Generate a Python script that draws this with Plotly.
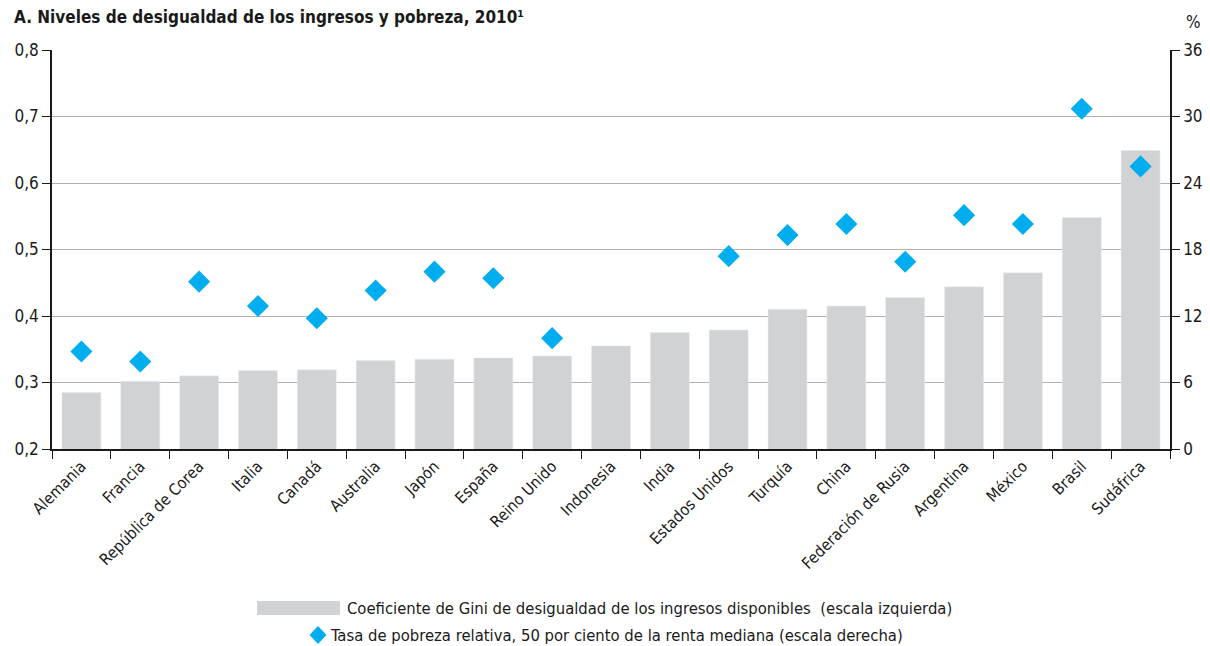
import plotly.graph_objects as go

countries = ["Alemania", "Francia", "República de Corea", "Italia", "Canadá", "Australia",
             "Japón", "España", "Reino Unido", "Indonesia", "India", "Estados Unidos",
             "Turquía", "China", "Federación de Rusia", "Argentina", "México", "Brasil", "Sudáfrica"]
gini = [0.285, 0.302, 0.310, 0.318, 0.319, 0.333, 0.335, 0.337, 0.340, 0.355, 0.375, 0.379,
        0.410, 0.415, 0.428, 0.444, 0.465, 0.548, 0.649]
poverty = [8.8, 7.9, 15.1, 12.9, 11.8, 14.3, 16.0, 15.4, 10.0, None, None, 17.4,
           19.3, 20.3, 16.9, 21.1, 20.3, 30.7, 25.5]

left_ticks = [0.2, 0.3, 0.4, 0.5, 0.6, 0.7, 0.8]
right_ticks = [0, 6, 12, 18, 24, 30, 36]

FONT = "Liberation Sans Narrow, DejaVu Sans Condensed, Arial Narrow, sans-serif"
BAR = "#d1d2d4"
BLUE = "#00aeef"

# page body has an 8px margin: figure is sized/offset so the plot lands on the reference pixels
OFF = 8
PL, PT, PR, PB = 52, 50, 1170, 449  # plot area in screen pixels


def px(x):
    return (x - PL) / (PR - PL)


def py(y):
    return (PB - y) / (PB - PT)


W, H = 1210 - OFF, 646 - OFF

fig = go.Figure()
fig.add_trace(go.Bar(x=countries, y=gini, base=0, marker_color=BAR, width=0.663,
                     showlegend=False, yaxis="y"))
fig.add_trace(go.Scatter(x=countries, y=poverty, mode="markers", yaxis="y2",
                         marker=dict(symbol="diamond", size=17, color=BLUE),
                         showlegend=False))

fig.update_layout(
    width=W, height=H,
    margin=dict(l=PL - OFF, r=W - (PR - OFF), t=PT - OFF, b=H - (PB - OFF), autoexpand=False),
    paper_bgcolor="white", plot_bgcolor="white",
    font=dict(family=FONT, size=16, color="#1a1a1a"),
    separators=",.",
    xaxis=dict(range=[-0.5, len(countries) - 0.5],
               showline=True, linecolor="#1a1a1a", linewidth=1.5,
               ticks="outside", tickson="boundaries", ticklen=8, tickcolor="#1a1a1a",
               tickangle=-45, tickfont=dict(size=16), showgrid=False, automargin=False),
    yaxis=dict(range=[0.2, 0.8], tickvals=left_ticks, tickformat=".1f",
               showline=True, linecolor="#1a1a1a", linewidth=1.5,
               ticks="outside", ticklen=8, tickcolor="#1a1a1a",
               showgrid=True, gridcolor="#b0b0b0", gridwidth=1,
               zeroline=False, tickfont=dict(size=17), automargin=False),
    yaxis2=dict(range=[0, 36], tickvals=right_ticks, overlaying="y", side="right",
                showline=True, linecolor="#1a1a1a", linewidth=1.5,
                ticks="outside", ticklen=8, tickcolor="#1a1a1a",
                showgrid=False, zeroline=False, tickfont=dict(size=17), automargin=False),
)

fig.add_annotation(text="<b>A. Niveles de desigualdad de los ingresos y pobreza, 2010¹</b>",
                   xref="paper", yref="paper", x=px(12), y=py(17),
                   xanchor="left", yanchor="middle",
                   showarrow=False, font=dict(size=17, family=FONT))
fig.add_annotation(text="%", xref="paper", yref="paper", x=px(1193), y=py(22),
                   xanchor="center", yanchor="middle", showarrow=False, font=dict(size=17))

# legend (manual)
fig.add_shape(type="rect", xref="paper", yref="paper",
              x0=px(257), x1=px(340), y0=py(601), y1=py(615),
              fillcolor=BAR, line=dict(width=0))
fig.add_annotation(text="Coeficiente de Gini de desigualdad de los ingresos disponibles  (escala izquierda)",
                   xref="paper", yref="paper", x=px(345), y=py(608),
                   xanchor="left", yanchor="middle", showarrow=False, font=dict(size=16.5))
cx, cy = 318, 635
fig.add_shape(type="path", xref="paper", yref="paper",
              path=(f"M {px(cx - 8.5)} {py(cy)} L {px(cx)} {py(cy - 9)} "
                    f"L {px(cx + 8.5)} {py(cy)} L {px(cx)} {py(cy + 9)} Z"),
              fillcolor=BLUE, line=dict(width=0))
fig.add_annotation(text="Tasa de pobreza relativa, 50 por ciento de la renta mediana (escala derecha)",
                   xref="paper", yref="paper", x=px(328), y=py(635),
                   xanchor="left", yanchor="middle", showarrow=False, font=dict(size=16.5))

fig.write_html("out.html")
